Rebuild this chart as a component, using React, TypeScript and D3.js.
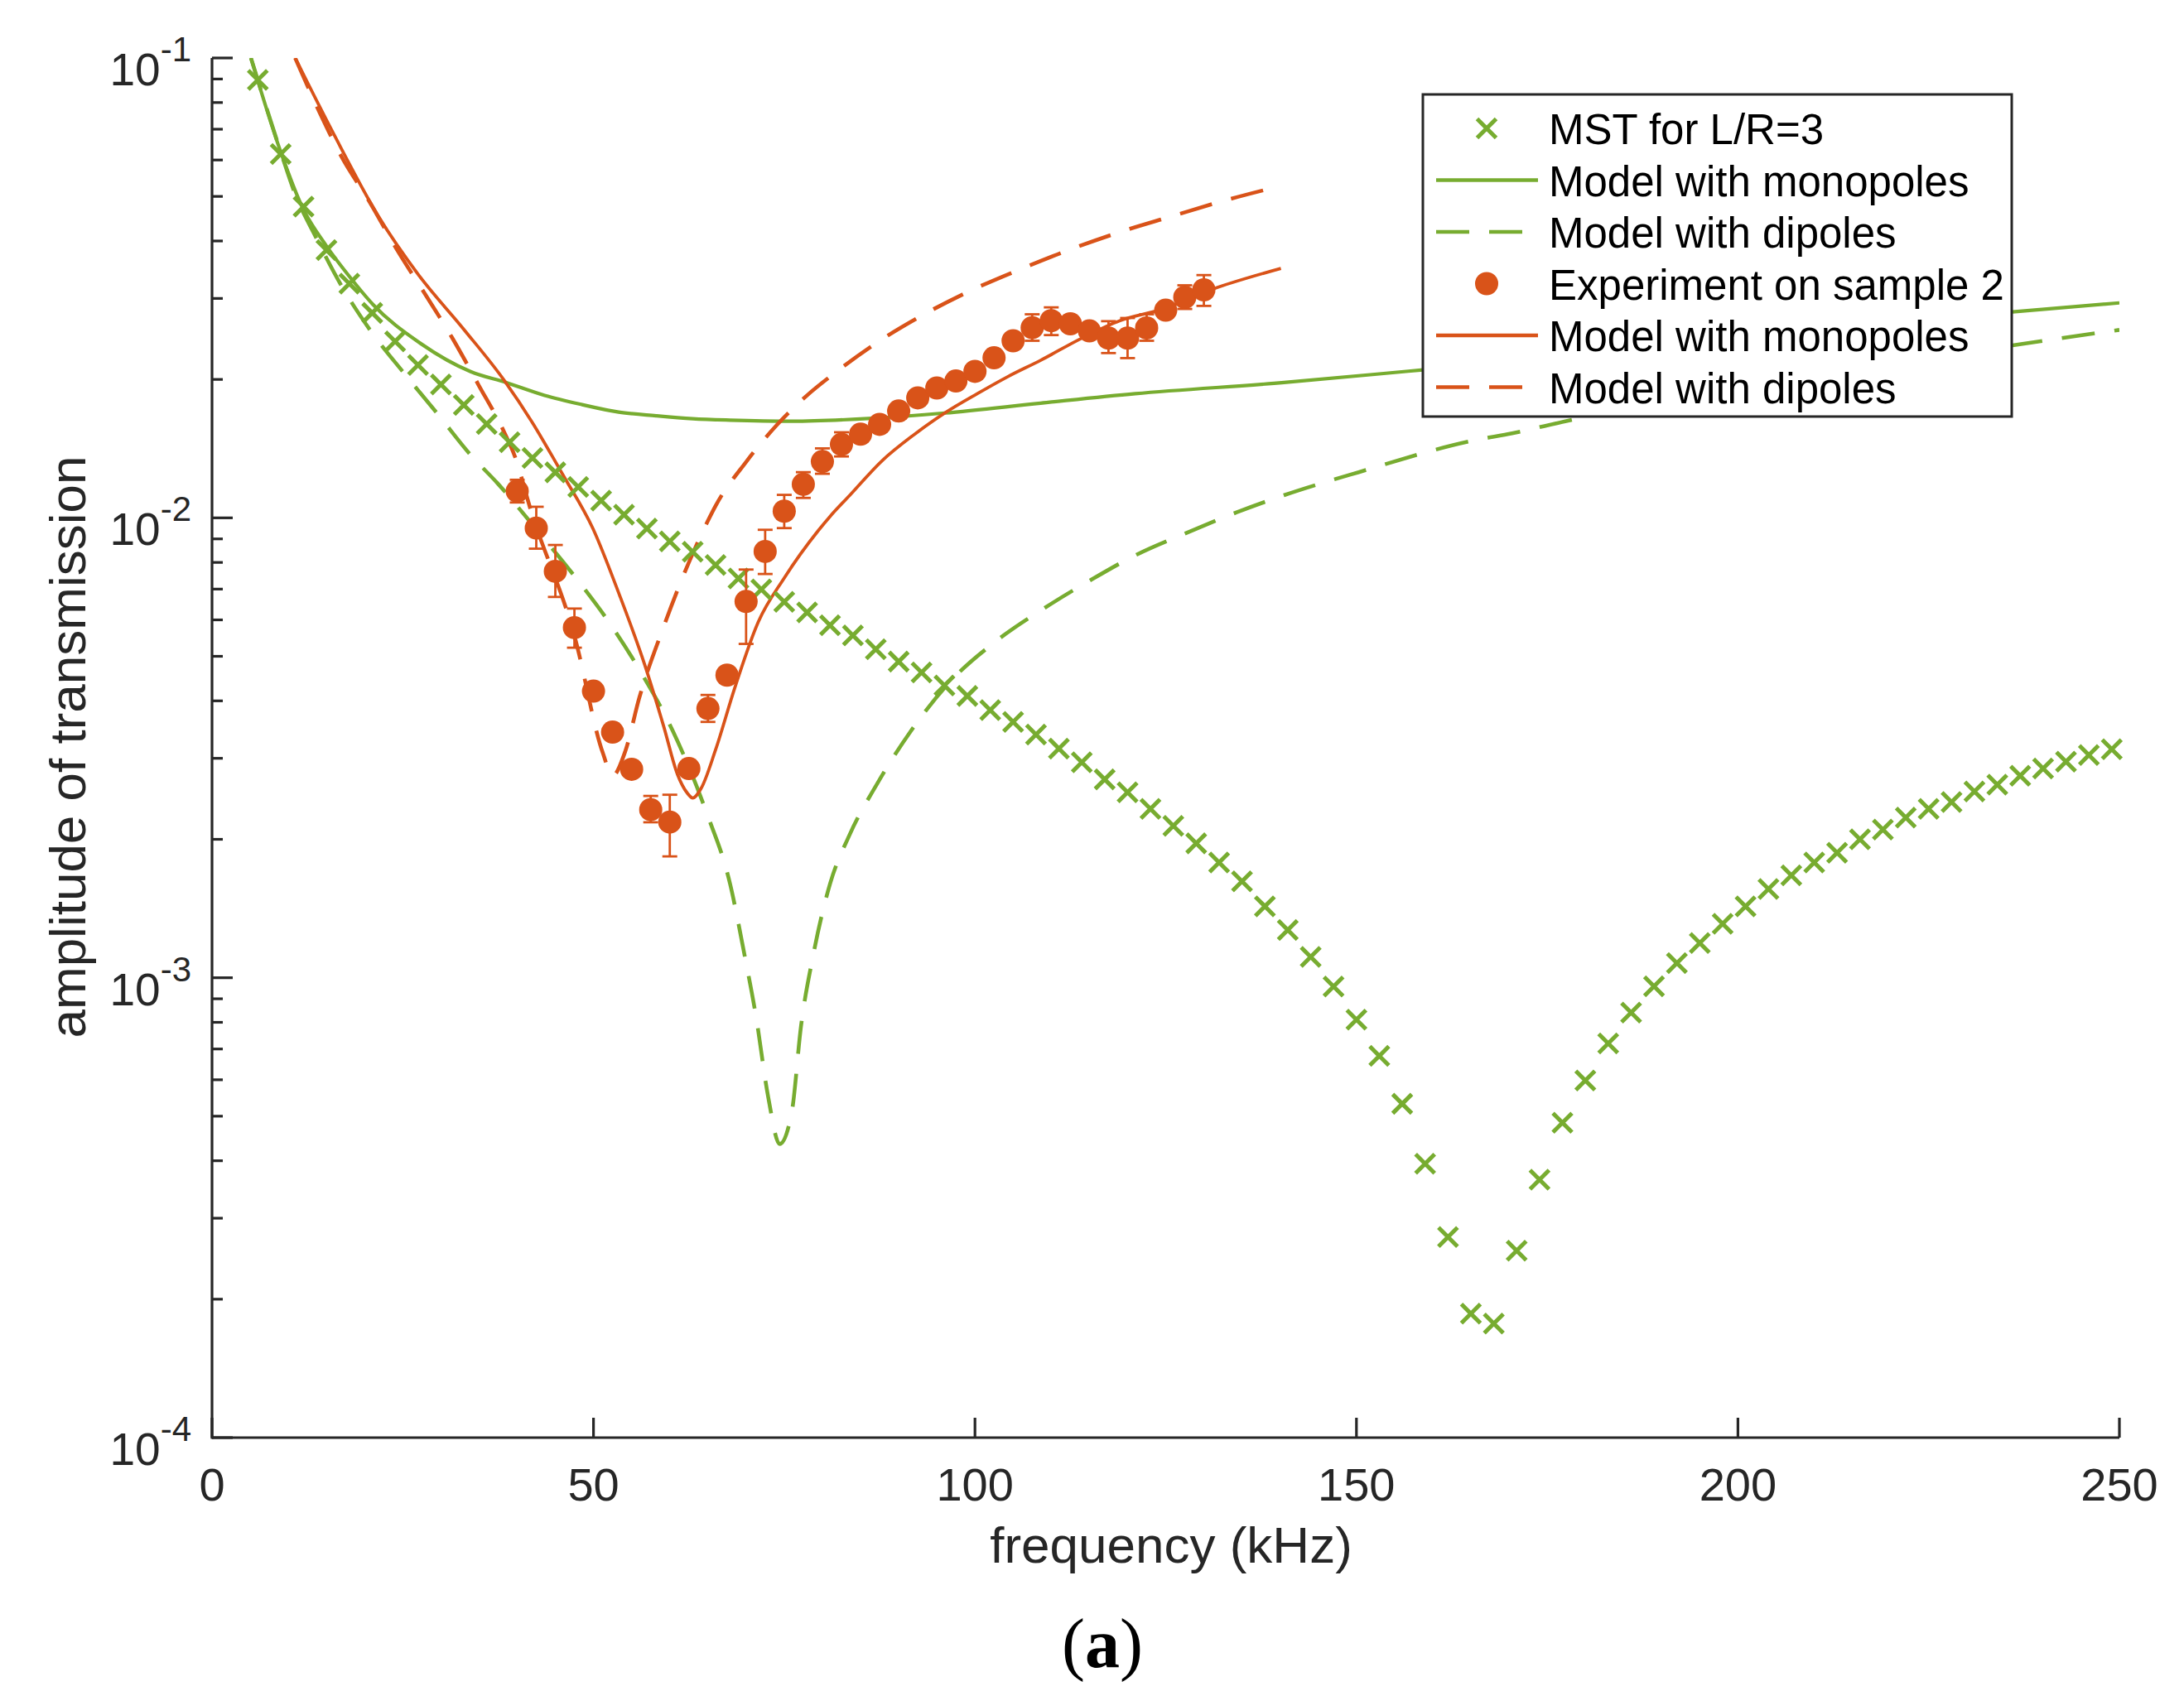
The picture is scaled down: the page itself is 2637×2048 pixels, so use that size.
import React, { useMemo } from 'react';
import * as d3 from 'd3';

const WIDTH = 2637;
const HEIGHT = 2048;

// plot box in page pixels
const margin = { l: 256, r: 78, t: 70, b: 312 };

const GREEN = '#77ac30';
const ORANGE = '#d95319';
const AXIS = '#262626';

// MST for L/R=3 (crosses)
const mstFreq = [
  6, 9, 12, 15, 18, 21, 24, 27, 30, 33, 36, 39, 42, 45, 48, 51, 54, 57, 60, 63, 66, 69, 72, 75, 78, 81,
  84, 87, 90, 93, 96, 99, 102, 105, 108, 111, 114, 117, 120, 123, 126, 129, 132, 135, 138, 141, 144,
  147, 150, 153, 156, 159, 162, 165, 168, 171, 174, 177, 180, 183, 186, 189, 192, 195, 198, 201, 204,
  207, 210, 213, 216, 219, 222, 225, 228, 231, 234, 237, 240, 243, 246, 249,
];
const mstT = [
  0.0896, 0.0618, 0.0475, 0.0382, 0.0323, 0.0279, 0.0242, 0.0215, 0.0195, 0.0176, 0.016, 0.0146,
  0.0135, 0.01256, 0.01167, 0.0109, 0.01016, 0.00948, 0.00889, 0.00844, 0.0079, 0.00738, 0.00699,
  0.00657, 0.00623, 0.00584, 0.00555, 0.00518, 0.00487, 0.00461, 0.00432, 0.0041, 0.00382, 0.0036,
  0.00338, 0.00315, 0.00294, 0.0027, 0.00253, 0.00233, 0.00214, 0.00196, 0.00178, 0.00162, 0.00143,
  0.00127, 0.00111, 0.000957, 0.000811, 0.000676, 0.000532, 0.000394, 0.000273, 0.000186, 0.000177,
  0.000255, 0.000364, 0.000484, 0.000598, 0.00072, 0.00084, 0.000958, 0.001076, 0.00119, 0.00131,
  0.00143, 0.00156, 0.00167, 0.00178, 0.00187, 0.002, 0.0021, 0.00223, 0.00233, 0.00241, 0.00254,
  0.00263, 0.00275, 0.00285, 0.00295, 0.00305, 0.00314,
];

// model with monopoles (L/R=3)
const greenMonoFreq = [
  5.1, 9.1, 11.8, 15, 18, 21.1, 27.1, 33.9, 38.5, 43.6, 48.5, 53.3, 58.2, 63, 67.9, 76, 86.5, 96,
  108.6, 121, 140.5, 156.8, 236, 250,
];
const greenMonoT = [
  0.1, 0.0618, 0.0475, 0.039, 0.0335, 0.0291, 0.0241, 0.0208, 0.0197, 0.01846, 0.01763, 0.01698,
  0.01667, 0.01643, 0.01631, 0.01622, 0.01646, 0.0169, 0.01776, 0.01862, 0.01969, 0.02084, 0.02804,
  0.02934,
];

// model with dipoles (L/R=3)
const greenDipFreq = [
  5.1, 9.1, 10.7, 13.8, 17, 20.8, 25.2, 29.6, 33.9, 37.4, 42.6, 47.7, 52, 56, 60.4, 64.8, 67.9, 69.8,
  71.3, 72.9, 74.4, 76, 77.2, 78.8, 81, 83.5, 87.2, 91.6, 96.5, 102.8, 109.2, 115.2, 121.2, 127.7,
  134.3, 140.5, 150.3, 165.5, 170.4, 177.5, 236.2, 250,
];
const greenDipT = [
  0.1, 0.0618, 0.0516, 0.0402, 0.0319, 0.0255, 0.0206, 0.0168, 0.0137, 0.0119, 0.0094, 0.0074,
  0.00594, 0.00468, 0.00344, 0.00229, 0.0016, 0.00112, 0.000824, 0.00055, 0.000435, 0.000512,
  0.000785, 0.00112, 0.0016, 0.002035, 0.002645, 0.00344, 0.00436, 0.0054, 0.00638, 0.00733, 0.00832,
  0.00927, 0.01028, 0.0112, 0.01257, 0.01475, 0.01527, 0.01624, 0.02375, 0.02563,
];

// experiment on sample 2 (dots + error bars)
const expFreq = [
  40, 42.5, 45, 47.5, 50, 52.5, 55, 57.5, 60, 62.5, 65, 67.5, 70, 72.5, 75, 77.5, 80, 82.5, 85, 87.5,
  90, 92.5, 95, 97.5, 100, 102.5, 105, 107.5, 110, 112.5, 115, 117.5, 120, 122.5, 125, 127.5, 130,
];
const expT = [
  0.01143, 0.0095, 0.00765, 0.00577, 0.0042, 0.00342, 0.00284, 0.00232, 0.00218, 0.00285, 0.00385,
  0.00455, 0.00658, 0.00845, 0.01034, 0.01183, 0.01326, 0.01445, 0.0152, 0.01597, 0.01707, 0.01824,
  0.01916, 0.01984, 0.02082, 0.02228, 0.02427, 0.02592, 0.02684, 0.02642, 0.0255, 0.02459, 0.02459,
  0.02588, 0.02828, 0.03017, 0.03132,
];
const expHi = [
  0.0121, 0.01057, 0.00873, 0.00635, 0.00435, 0.00354, 0.00294, 0.002485, 0.0025, 0.00295, 0.00412,
  0.0047, 0.00772, 0.00942, 0.01122, 0.01257, 0.01416, 0.01535, 0.01565, 0.01645, 0.0176, 0.0188,
  0.0197, 0.0204, 0.0214, 0.0229, 0.0249, 0.02771, 0.02869, 0.0272, 0.0263, 0.02677, 0.0272, 0.02771,
  0.0291, 0.03204, 0.03372,
];
const expLo = [
  0.0108, 0.00857, 0.00673, 0.00522, 0.00405, 0.0033, 0.00274, 0.002178, 0.001836, 0.00275, 0.0036,
  0.0044, 0.00532, 0.00755, 0.0095, 0.01105, 0.01247, 0.0136, 0.01475, 0.0155, 0.01655, 0.0177,
  0.0186, 0.0193, 0.0202, 0.0217, 0.0236, 0.02427, 0.02497, 0.0257, 0.0248, 0.02282, 0.02225, 0.02427,
  0.0275, 0.02846, 0.0289,
];

// model with monopoles (sample 2)
const orangeMonoFreq = [
  10.9, 16, 21.8, 27.1, 33, 38.3, 42.2, 44.5, 46, 49.9, 53.4, 56.7, 59.2, 61, 62.3, 63, 64.1, 66, 68.5,
  71.6, 75, 79.5, 81, 83.6, 87.8, 92, 96.1, 100.3, 104.4, 108.6, 114, 119, 124.4, 131.8, 140.1,
];
const orangeMonoT = [
  0.1, 0.0681, 0.0453, 0.0337, 0.0257, 0.0199, 0.0159, 0.0137, 0.0124, 0.0095, 0.0068, 0.0048,
  0.00352, 0.00277, 0.00252, 0.00246, 0.00258, 0.00313, 0.00426, 0.00594, 0.0074, 0.0094, 0.01007,
  0.0112, 0.0133, 0.01516, 0.01693, 0.01862, 0.02032, 0.02201, 0.02459, 0.02684, 0.02836, 0.0317,
  0.03487,
];

// model with dipoles (sample 2)
const orangeDipFreq = [
  10.9, 14.1, 17, 20.6, 24.2, 27.9, 31.5, 34.9, 38.3, 39.7, 41.7, 47.6, 51.2, 52.5, 54.2, 56, 59.2,
  62.9, 65, 66, 70, 74, 78, 81.5, 87.2, 93.1, 99.4, 105.9, 112.4, 119, 125.7, 132.5, 139.2,
];
const orangeDipT = [
  0.1, 0.0761, 0.0609, 0.0488, 0.0384, 0.0307, 0.0246, 0.0195, 0.01535, 0.0136, 0.0105, 0.00546,
  0.00309, 0.00275, 0.00312, 0.00406, 0.0058, 0.00829, 0.00986, 0.01062, 0.01323, 0.0159, 0.01847,
  0.02058, 0.02408, 0.02757, 0.03118, 0.0347, 0.03829, 0.04183, 0.04521, 0.04887, 0.05226,
];

const legendLabels = [
  'MST for L/R=3',
  'Model with monopoles',
  'Model with dipoles',
  'Experiment on sample 2',
  'Model with monopoles',
  'Model with dipoles',
];

const yMajor = [1e-4, 1e-3, 1e-2, 1e-1];
const yExp = ['-4', '-3', '-2', '-1'];

const FONT = '"Liberation Sans", Arial, Helvetica, sans-serif';
const DASH = '40 24';
const LW = 4.2;

const zip = (f: number[], t: number[]) => f.map((v, i) => [v, t[i]] as [number, number]);

const crossPath = (s: number) => `M${-s},${-s}L${s},${s}M${-s},${s}L${s},${-s}`;

const App = () => {
  const x = useMemo(
    () => d3.scaleLinear().domain([0, 250]).range([margin.l, WIDTH - margin.r]),
    []
  );
  const y = useMemo(
    () => d3.scaleLog().domain([1e-4, 1e-1]).range([HEIGHT - margin.b, margin.t]),
    []
  );

  const line = d3
    .line<[number, number]>()
    .x((d) => x(d[0]))
    .y((d) => y(d[1]))
    .curve(d3.curveMonotoneX);

  const x0 = x(0);
  const x1 = x(250);
  const yb = y(1e-4);
  const yt = y(1e-1);

  const minor = y.ticks().filter((t) => !yMajor.some((m) => Math.abs(m - t) / m < 1e-6));

  // legend geometry
  const lg = { x: 1718, y: 114, w: 711, h: 389 };
  const rowY = legendLabels.map((_, i) => 155 + i * 62.5);
  const symX0 = 1734;
  const symX1 = 1857;
  const symC = 1795;

  const legendStyles = [
    { kind: 'cross', color: GREEN },
    { kind: 'line', color: GREEN, dash: undefined },
    { kind: 'line', color: GREEN, dash: DASH },
    { kind: 'dot', color: ORANGE },
    { kind: 'line', color: ORANGE, dash: undefined },
    { kind: 'line', color: ORANGE, dash: DASH },
  ];

  return (
    <>
      <style>{'body{margin:0;overflow:hidden;}'}</style>
      <svg
        width={WIDTH}
        height={HEIGHT}
        viewBox={`0 0 ${WIDTH} ${HEIGHT}`}
        style={{ position: 'absolute', left: 0, top: 0, background: '#fff' }}
      >
        <defs>
          <clipPath id="plot">
            <rect x={x0} y={yt} width={x1 - x0} height={yb - yt} />
          </clipPath>
        </defs>

        {/* curves */}
        <g clipPath="url(#plot)" fill="none" strokeLinejoin="round">
          <path d={line(zip(greenMonoFreq, greenMonoT)) || ''} stroke={GREEN} strokeWidth={LW} />
          <path
            d={line(zip(greenDipFreq, greenDipT)) || ''}
            stroke={GREEN}
            strokeWidth={LW + 0.4}
            strokeDasharray={DASH}
          />
          <path d={line(zip(orangeMonoFreq, orangeMonoT)) || ''} stroke={ORANGE} strokeWidth={LW - 0.4} />
          <path
            d={line(zip(orangeDipFreq, orangeDipT)) || ''}
            stroke={ORANGE}
            strokeWidth={LW + 0.4}
            strokeDasharray={DASH}
          />
        </g>

        {/* MST crosses */}
        <g stroke={GREEN} strokeWidth={5} fill="none">
          {mstFreq.map((f, i) => (
            <path key={`m-${i}`} transform={`translate(${x(f)},${y(mstT[i])})`} d={crossPath(11.5)} />
          ))}
        </g>

        {/* experiment with error bars */}
        <g stroke={ORANGE} strokeWidth={2.8}>
          {expFreq.map((f, i) => {
            const cx = x(f);
            return (
              <g key={`e-${i}`}>
                <line x1={cx} x2={cx} y1={y(expLo[i])} y2={y(expHi[i])} />
                <line x1={cx - 9} x2={cx + 9} y1={y(expLo[i])} y2={y(expLo[i])} />
                <line x1={cx - 9} x2={cx + 9} y1={y(expHi[i])} y2={y(expHi[i])} />
              </g>
            );
          })}
        </g>
        <g fill={ORANGE}>
          {expFreq.map((f, i) => (
            <circle key={`d-${i}`} cx={x(f)} cy={y(expT[i])} r={14} />
          ))}
        </g>

        {/* axes */}
        <g stroke={AXIS} strokeWidth={3.2} fill="none">
          <line x1={x0} x2={x1} y1={yb} y2={yb} />
          <line x1={x0} x2={x0} y1={yb + 1.6} y2={yt} />
          {x.ticks(5).map((t) => (
            <line key={`xt-${t}`} x1={x(t)} x2={x(t)} y1={yb} y2={yb - 24} />
          ))}
          {yMajor.map((t) => (
            <line key={`yt-${t}`} x1={x0} x2={x0 + 25} y1={y(t)} y2={y(t)} />
          ))}
          {minor.map((t, i) => (
            <line key={`ym-${i}`} x1={x0} x2={x0 + 13} y1={y(t)} y2={y(t)} />
          ))}
        </g>
        <g fill={AXIS} fontFamily={FONT}>
          {x.ticks(5).map((t) => (
            <text key={`xl-${t}`} x={x(t)} y={yb + 76} fontSize={56} textAnchor="middle">
              {t}
            </text>
          ))}
          {yMajor.map((t, i) => (
            <text key={`yl-${t}`} x={231} y={y(t) + 33} fontSize={55} textAnchor="end">
              <tspan>10</tspan>
              <tspan dy={-29} fontSize={42}>
                {yExp[i]}
              </tspan>
            </text>
          ))}
          <text x={1414} y={1887} fontSize={62} textAnchor="middle">
            frequency (kHz)
          </text>
          <text transform="translate(103, 902) rotate(-90)" fontSize={62} textAnchor="middle">
            amplitude of transmission
          </text>
        </g>

        {/* legend */}
        <g>
          <rect x={lg.x} y={lg.y} width={lg.w} height={lg.h} fill="#fff" stroke={AXIS} strokeWidth={3} />
          {legendStyles.map((s, i) => {
            const cy = rowY[i];
            let sym: React.ReactNode = null;
            if (s.kind === 'cross') {
              sym = (
                <path
                  transform={`translate(${symC},${cy})`}
                  d={crossPath(11.5)}
                  stroke={s.color}
                  strokeWidth={5}
                  fill="none"
                />
              );
            } else if (s.kind === 'dot') {
              sym = <circle cx={symC} cy={cy} r={14} fill={s.color} />;
            } else {
              sym = (
                <line
                  x1={symX0}
                  x2={symX1}
                  y1={cy}
                  y2={cy}
                  stroke={s.color}
                  strokeWidth={LW + 0.4}
                  strokeDasharray={s.dash}
                />
              );
            }
            return (
              <g key={`lg-${i}`}>
                {sym}
                <text x={1870} y={cy + 19} fontSize={51} fontFamily={FONT} fill="#000">
                  {legendLabels[i]}
                </text>
              </g>
            );
          })}
        </g>

        <text
          x={1331}
          y={2013}
          fontSize={84}
          textAnchor="middle"
          fontFamily='"Liberation Serif", "Times New Roman", serif'
          fill="#000"
        >
          (<tspan fontWeight="bold">a</tspan>)
        </text>
      </svg>
    </>
  );
};

export default App;
